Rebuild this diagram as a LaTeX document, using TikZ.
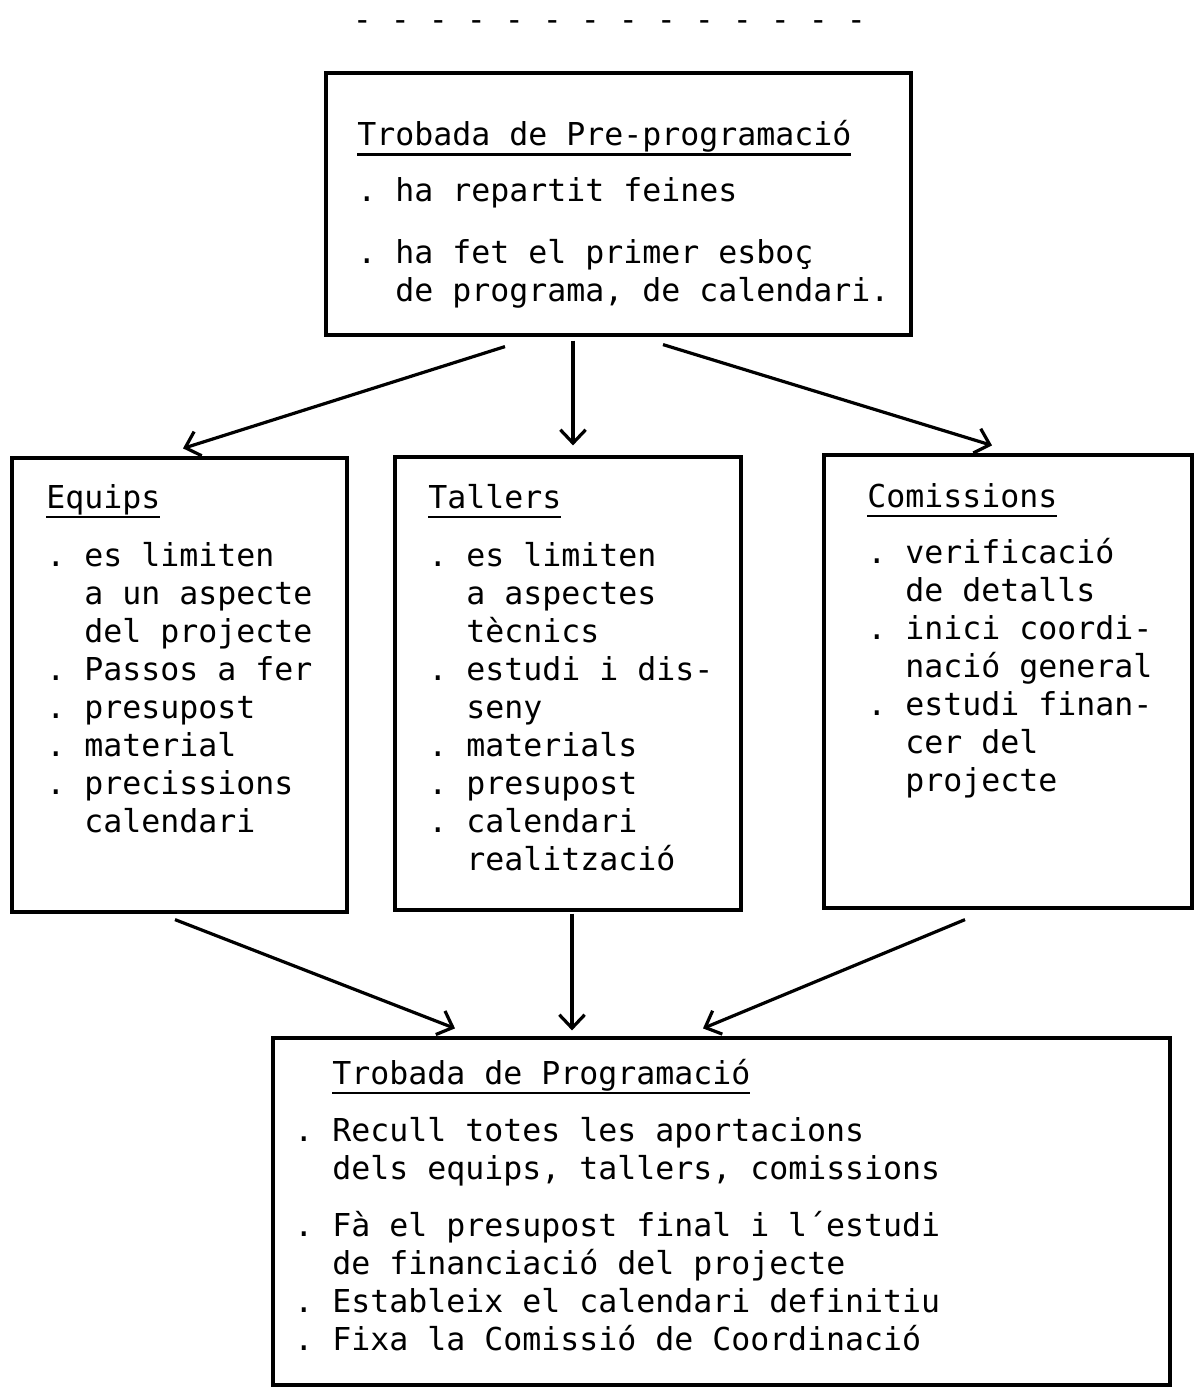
\documentclass[tikz,border=0pt]{standalone}
\usepackage{fontspec}
\newfontfamily\tw{DejaVu Sans Mono}
\usetikzlibrary{arrows.meta,calc}
% underline at a fixed depth below the baseline
\newcommand\tul[1]{\setbox0\hbox{#1}\rlap{\rule[-7.6pt]{\wd0}{1.9pt}}\box0}
% two-character indent of the typewriter grid
\newcommand\ind{\hspace*{28.5pt}}
\begin{document}
\begin{tikzpicture}[x=0.75pt,y=-0.75pt,
  box/.style={draw,line width=2.4pt,rectangle,inner sep=0pt},
  txt/.style={anchor=north west,inner sep=0pt,align=left,
    font=\tw\fontsize{23.67pt}{28.5pt}\selectfont\frenchspacing},
  arr/.style={line width=2.4pt,-{Straight Barb[length=10pt,width=19pt]}}]

\path[use as bounding box,fill=white] (0,0) rectangle (1195,1391);

% typed rule at the head of the page
\node[txt,anchor=base west] (rule) at (352.5,31) {- - - - - - - - - - - - - -};

% boxes
\node[box,minimum width=438.75pt,minimum height=196.5pt] (top) at (618.5,204) {};
\node[box,minimum width=251.25pt,minimum height=340.5pt] (equips) at (179.5,685) {};
\node[box,minimum width=259.5pt,minimum height=339.75pt] (tallers) at (568,683.5) {};
\node[box,minimum width=276pt,minimum height=339.75pt] (comissions) at (1008,681.5) {};
\node[box,minimum width=672.75pt,minimum height=260.25pt] (bottom) at (721.5,1211.5) {};

% box contents
\node[txt] (toptxt) at (357,118.9) {\strut\tul{Trobada de Pre-programació}\\[13.5pt]
. ha repartit feines\\[18pt]
. ha fet el primer esboç\\
\ind de programa, de calendari.};

\node[txt] (equipstxt) at (46,481.4) {\strut\tul{Equips}\\[15pt]
. es limiten\\
\ind a un aspecte\\
\ind del projecte\\
. Passos a fer\\
. presupost\\
. material\\
. precissions\\
\ind calendari};

\node[txt] (tallerstxt) at (428,481.4) {\strut\tul{Tallers}\\[15pt]
. es limiten\\
\ind a aspectes\\
\ind tècnics\\
. estudi i dis-\\
\ind seny\\
. materials\\
. presupost\\
. calendari\\
\ind realització};

\node[txt] (comissionstxt) at (867,480.4) {\strut\tul{Comissions}\\[14pt]
. verificació\\
\ind de detalls\\
. inici coordi-\\
\ind nació general\\
. estudi finan-\\
\ind cer del\\
\ind projecte};

\node[txt] (bottomtxt) at (294,1057.4) {\strut\ind\tul{Trobada de Programació}\\[14.25pt]
. Recull totes les aportacions\\
\ind dels equips, tallers, comissions\\[14.25pt]
. Fà el presupost final i l´estudi\\
\ind de financiació del projecte\\
. Estableix el calendari definitiu\\
. Fixa la Comissió de Coordinació};

% connectors
\draw[arr] ($(top.south)+(-113.5,10)$) -- ($(equips.north)+(3.5,-8)$);
\draw[arr] ($(top.south)+(-45.5,4)$) -- ($(tallers.north)+(5,-10)$);
\draw[arr] ($(top.south)+(44.5,8)$) -- ($(comissions.north)+(-16,-8)$);
\draw[arr] ($(equips.south)+(-4.5,6)$) -- ($(bottom.north)+(-266.5,-8)$);
\draw[arr] ($(tallers.south)+(4,2)$) -- ($(bottom.north)+(-149.5,-6)$);
\draw[arr] ($(comissions.south)+(-43,10)$) -- ($(bottom.north)+(-18.5,-8)$);
\end{tikzpicture}
\end{document}
